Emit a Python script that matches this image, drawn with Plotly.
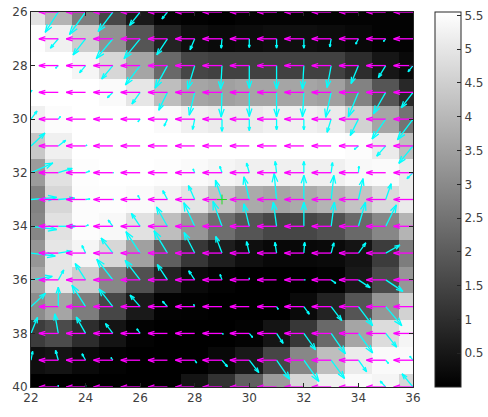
import plotly.graph_objects as go

lon = [22, 23, 24, 25, 26, 27, 28, 29, 30, 31, 32, 33, 34, 35, 36]
lat = [26, 27, 28, 29, 30, 31, 32, 33, 34, 35, 36, 37, 38, 39, 40]

field = [
    [4.9, 3.92, 2.72, 1.52, .54, .11, .04, 0, .07, .07, .07, .07, .07, .07, .07],
    [5.5, 5.22, 4.46, 3.16, 1.85, .76, .33, .22, .26, .33, .33, .26, .17, .07, .07],
    [5.55, 5.55, 5.33, 4.68, 3.59, 2.28, 1.52, 1.41, 1.41, 1.41, 1.41, 1.41, .98, .48, .22],
    [5.55, 5.55, 5.55, 5.44, 5.0, 4.13, 3.59, 3.48, 3.59, 3.59, 3.59, 3.48, 2.83, 1.85, .87],
    [5.22, 5.48, 5.55, 5.55, 5.55, 5.44, 5.22, 5.11, 5.11, 5.22, 5.22, 5.11, 4.57, 3.59, 2.5],
    [4.35, 5.22, 5.55, 5.55, 5.55, 5.55, 5.55, 5.55, 5.55, 5.55, 5.55, 5.55, 5.48, 5.11, 4.13],
    [3.37, 4.9, 5.5, 5.55, 5.55, 5.5, 5.44, 5.33, 5.22, 5.22, 5.22, 5.22, 5.4, 5.44, 5.11],
    [2.83, 4.68, 5.48, 5.5, 5.44, 5.27, 4.96, 4.24, 3.7, 3.59, 3.7, 3.92, 4.24, 4.74, 5.11],
    [2.94, 4.9, 5.48, 5.4, 4.9, 4.13, 3.26, 2.39, 1.85, 1.52, 1.52, 1.74, 2.28, 2.94, 3.92],
    [3.26, 5.0, 5.33, 4.68, 3.48, 2.07, 1.2, .65, .33, .17, .17, .22, .44, 1.31, 2.72],
    [3.59, 5.0, 4.46, 2.94, 1.74, .76, .22, .07, 0, 0, 0, .07, .54, 1.63, 3.26],
    [3.05, 3.59, 2.72, 1.52, .54, .07, .04, 0, 0, 0, .22, .76, 1.85, 3.26, 4.57],
    [1.31, 1.63, .98, .44, .07, 0, 0, 0, .07, .44, 1.2, 2.28, 3.59, 4.79, 5.33],
    [.33, .44, .22, .07, 0, 0, 0, .17, .54, 1.52, 2.94, 4.13, 5.11, 5.44, 5.44],
    [0, 0, 0, 0, 0, 0, .44, 1.09, 2.07, 3.37, 4.68, 5.22, 5.44, 5.33, 4.68],
]

cyan_u = [
    [0, -.48, -.59, -.54, -.39, -.2, -.02, 0, 0, -.01, 0, 0, 0, 0, 0],
    [0, -.29, -.46, -.61, -.59, -.39, -.17, -.03, 0, 0, 0, -.05, -.1, -.08, 0],
    [0, -.1, -.22, -.41, -.54, -.45, -.26, -.05, 0, 0, -.05, -.15, -.27, -.27, -.18],
    [.03, 0, 0, -.2, -.3, -.32, -.2, -.03, 0, 0, -.05, -.2, -.37, -.45, -.43],
    [.22, .08, 0, 0, -.08, -.12, -.08, 0, 0, 0, 0, -.15, -.3, -.5, -.57],
    [.51, .27, .05, 0, 0, 0, 0, 0, 0, 0, 0, 0, -.15, -.33, -.52],
    [.8, .51, .15, .03, 0, 0, -.06, -.08, -.1, -.05, 0, .05, .02, 0, -.22],
    [.94, .6, .16, .03, -.08, -.17, -.23, -.24, -.2, -.09, 0, .1, .17, .2, 0],
    [.94, .63, .1, -.17, -.32, -.4, -.4, -.33, -.2, -.12, 0, .12, .26, .39, 0],
    [.89, .46, -.13, -.43, -.52, -.49, -.39, -.23, -.1, -.06, .03, .1, .27, .52, 0],
    [.78, .2, -.38, -.59, -.55, -.37, -.22, -.07, 0, 0, .05, .17, .43, .63, 0],
    [.53, 0, -.5, -.51, -.37, -.18, -.04, 0, 0, .06, .2, .39, .52, .59, 0],
    [.24, -.13, -.34, -.27, -.12, 0, 0, .05, .12, .24, .43, .52, .52, .4, 0],
    [.06, -.1, -.13, -.07, 0, 0, .07, .2, .35, .48, .55, .49, .3, .1, -.12],
    [0, 0, 0, 0, 0, 0, 0, 0, 0, 0, 0, 0, 0, -.2, -.4],
]

cyan_v = [
    [0, .76, .84, .73, .5, .26, .03, 0, 0, .01, 0, 0, 0, 0, 0],
    [0, .35, .6, .74, .74, .6, .41, .35, .33, .35, .35, .3, .2, .1, 0],
    [0, .1, .27, .5, .72, .84, .88, .88, .85, .88, .88, .82, .67, .45, .23],
    [-.08, 0, 0, .2, .43, .67, .85, .92, .9, .91, .91, .93, .91, .8, .57],
    [-.3, -.1, 0, 0, .1, .26, .38, .45, .43, .4, .4, .49, .61, .74, .77],
    [-.48, -.21, -.03, 0, 0, 0, 0, 0, 0, 0, 0, 0, .13, .38, .65],
    [-.36, -.16, -.06, 0, 0, 0, -.14, -.24, -.36, -.42, -.42, -.38, -.24, 0, .22],
    [-.08, -.05, -.02, 0, -.15, -.33, -.52, -.72, -.85, -.97, -.91, -.9, -.78, -.59, 0],
    [.12, 0, -.05, -.23, -.48, -.72, -.88, -.93, -.84, -.9, -.9, -.9, -.9, -.8, 0],
    [.11, -.07, -.28, -.56, -.8, -.83, -.77, -.62, -.43, -.4, -.4, -.38, -.38, -.3, 0],
    [-.13, -.37, -.61, -.77, -.73, -.57, -.34, -.2, -.07, 0, 0, .13, .29, .43, 0],
    [-.5, -.73, -.8, -.66, -.43, -.2, -.08, 0, 0, .1, .28, .52, .71, .71, 0],
    [-.6, -.73, -.61, -.37, -.17, 0, 0, .03, .15, .37, .61, .76, .73, .51, 0],
    [-.33, -.37, -.24, -.1, 0, 0, .1, .24, .46, .71, .79, .68, .43, .12, -.15],
    [0, -.07, -.06, 0, 0, 0, 0, 0, 0, 0, 0, 0, 0, -.22, -.49],
]

magenta_u = -0.71
magenta_v = 0.0
marker_lon = [29]
marker_lat = [33]
colorbar_ticks = [.5, 1, 1.5, 2, 2.5, 3, 3.5, 4, 4.5, 5, 5.5]
colorbar_labels = ["0.5", "1", "1.5", "2", "2.5", "3", "3.5", "4", "4.5", "5", "5.5"]
x_ticks = [22, 24, 26, 28, 30, 32, 34, 36]
y_ticks = [26, 28, 30, 32, 34, 36, 38, 40]

ALPHA = 0.33
BETA = 0.33


def arrows(get_u, get_v):
    xs, ys = [], []
    for j, y in enumerate(lat):
        for i, x in enumerate(lon):
            u, v = get_u(j, i), get_v(j, i)
            if u == 0 and v == 0:
                continue
            tx, ty = x + u, y + v
            xs += [x, tx, None]
            ys += [y, ty, None]
            xs += [tx - ALPHA * (u + BETA * v), tx, tx - ALPHA * (u - BETA * v), None]
            ys += [ty - ALPHA * (v - BETA * u), ty, ty - ALPHA * (v + BETA * u), None]
    return xs, ys


fig = go.Figure()
fig.add_trace(go.Heatmap(
    x=lon, y=lat, z=field, zmin=0, zmax=5.55,
    colorscale=[[0, "#000000"], [1, "#ffffff"]],
    hoverinfo="skip",
    colorbar=dict(
        thickness=26, thicknessmode="pixels", len=1, lenmode="fraction",
        x=435 / 488, xref="container", xanchor="left",
        y=0.5, yref="paper", yanchor="middle", xpad=0, ypad=0,
        outlinewidth=1, outlinecolor="#262626", borderwidth=0,
        tickmode="array", tickvals=colorbar_ticks, ticktext=colorbar_labels,
        ticks="inside", ticklen=4, tickwidth=1, tickcolor="#262626",
        tickfont=dict(family="DejaVu Sans", size=12, color="#404040"),
    ),
))

cx, cy = arrows(lambda j, i: cyan_u[j][i], lambda j, i: cyan_v[j][i])
fig.add_trace(go.Scatter(x=cx, y=cy, mode="lines", hoverinfo="skip", showlegend=False,
                         line=dict(color="#00FFFF", width=1.3)))
mx, my = arrows(lambda j, i: magenta_u, lambda j, i: magenta_v)
fig.add_trace(go.Scatter(x=mx, y=my, mode="lines", hoverinfo="skip", showlegend=False,
                         line=dict(color="#FF00FF", width=1.3)))
fig.add_trace(go.Scatter(x=marker_lon, y=marker_lat, mode="markers", hoverinfo="skip", showlegend=False,
                         marker=dict(symbol="cross-thin-open", size=7, color="#22DD22",
                                     line=dict(color="#22DD22", width=1))))

axis = dict(
    showgrid=False, zeroline=False, showline=True, linecolor="#262626", linewidth=1,
    mirror="ticks", ticks="inside", ticklen=4, tickwidth=1, tickcolor="#262626",
    ticklabeloverflow="allow",
    tickfont=dict(family="DejaVu Sans", size=12, color="#404040"),
)
fig.update_layout(
    width=488, height=424, autosize=False,
    margin=dict(l=30.5, r=74.5, t=12, b=28),
    paper_bgcolor="white", plot_bgcolor="white", showlegend=False,
    xaxis=dict(range=[22, 36], tickvals=x_ticks, **axis),
    yaxis=dict(range=[40, 26], tickvals=y_ticks, **axis),
)
fig.write_html("out.html", config={"displayModeBar": False},
               post_script="document.body.style.margin='0';document.body.style.overflow='hidden';"
                           "document.querySelector('.plotly-graph-div').style.marginTop='-7px';")
